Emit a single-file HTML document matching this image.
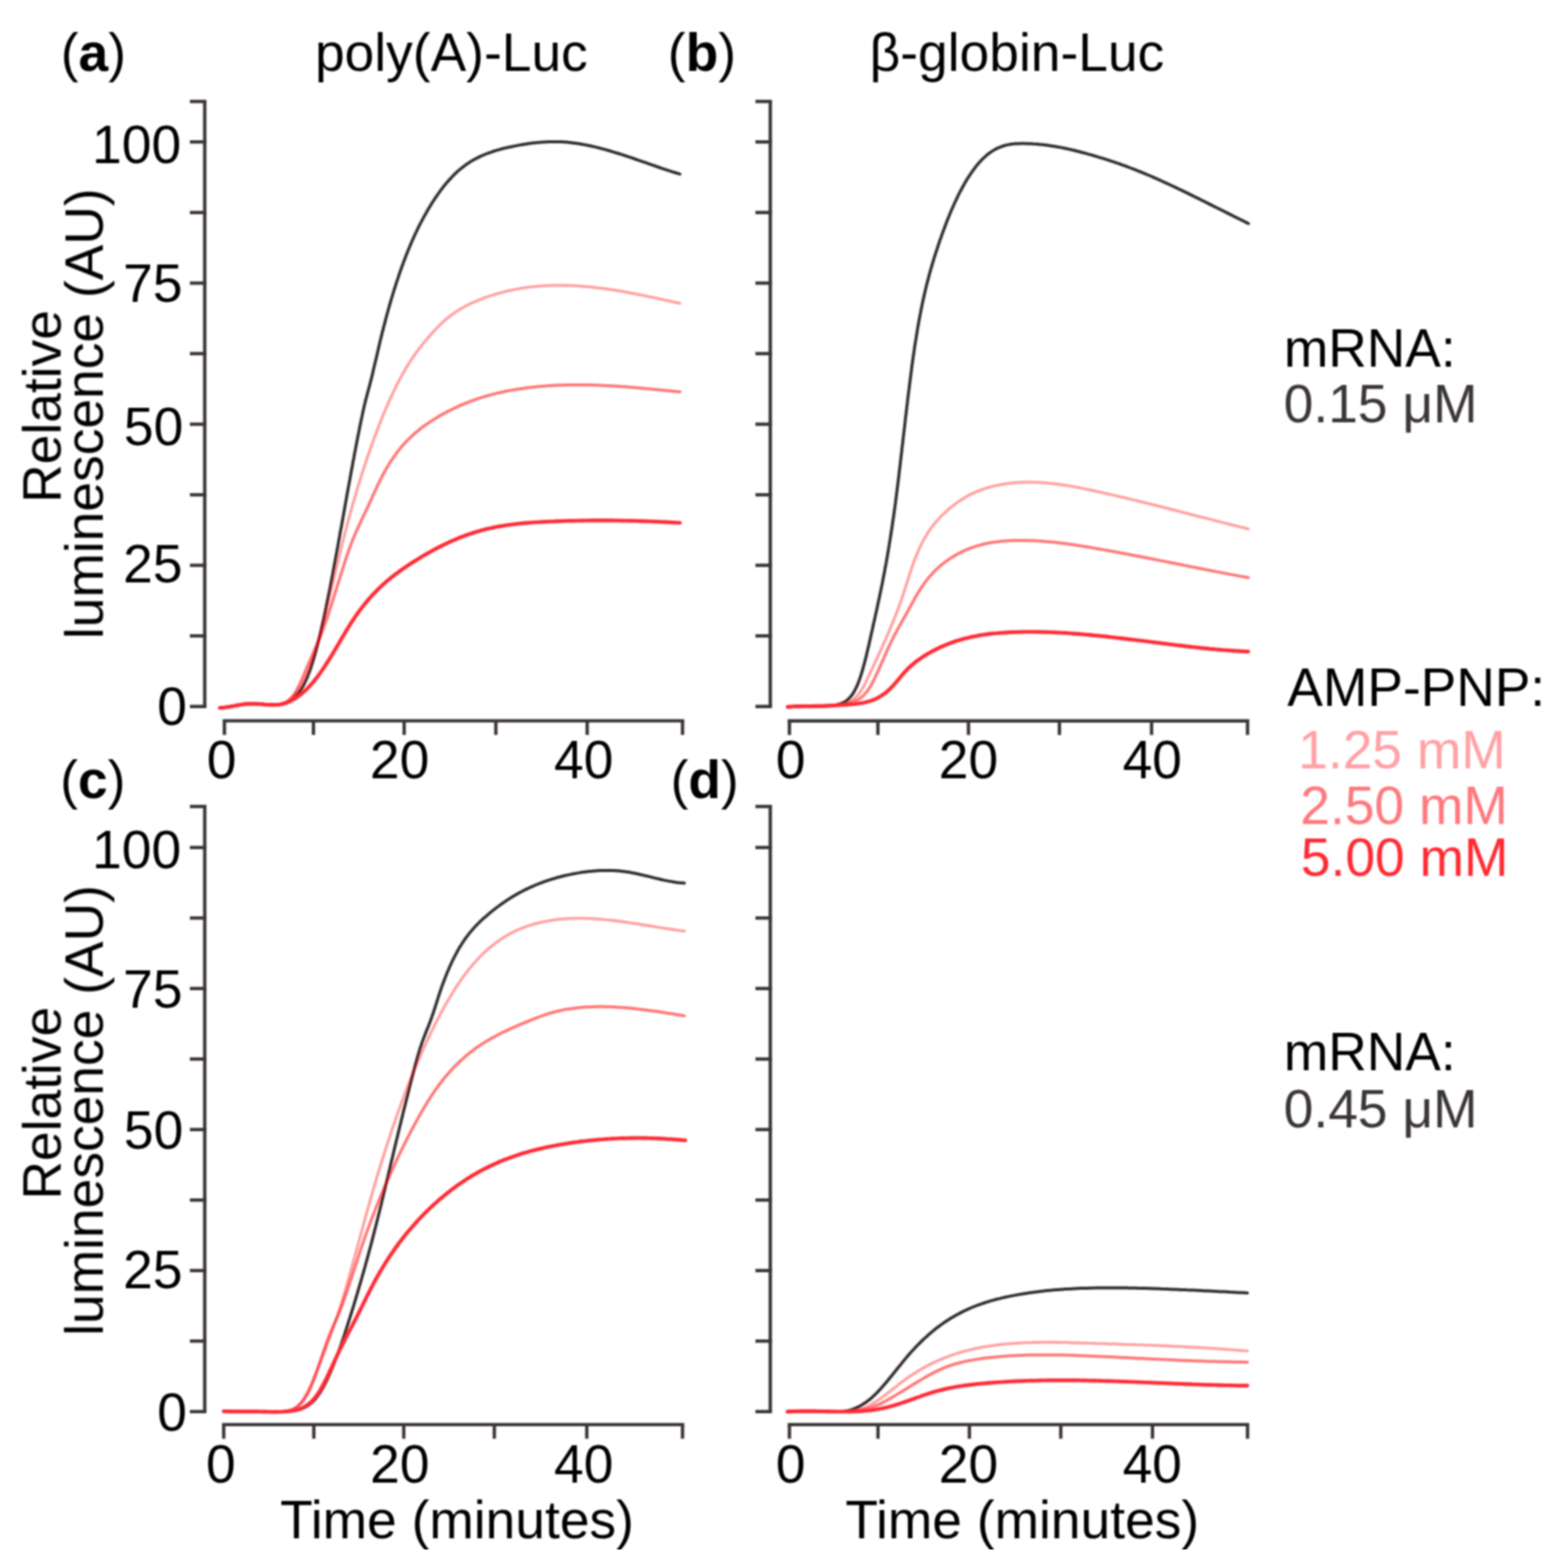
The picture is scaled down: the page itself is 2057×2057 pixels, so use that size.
<!DOCTYPE html>
<html><head><meta charset="utf-8"><title>Luminescence</title>
<style>
html,body{margin:0;padding:0;background:#fff;}
body{width:2057px;height:2057px;overflow:hidden;}
svg{display:block;}
text{font-family:"Liberation Sans",Arial,sans-serif;font-size:70px;}
</style></head><body>
<svg xmlns="http://www.w3.org/2000/svg" width="2057" height="2057" viewBox="0 0 2057 2057">
<defs><filter id="soft" x="0" y="0" width="100%" height="100%"><feGaussianBlur stdDeviation="0.8"/></filter></defs>
<rect width="2057" height="2057" fill="#fff"/>
<g filter="url(#soft)">
<g stroke="#3a3536" stroke-width="4.4" fill="none" stroke-linecap="butt">
<path d="M268.6 133.1 V926.8" />
<path d="M249.1 133.1 H270.8" />
<path d="M249.1 926.8 H270.8" />
<path d="M249.1 834.2 H270.8" />
<path d="M249.1 741.6 H270.8" />
<path d="M249.1 649.1 H270.8" />
<path d="M249.1 556.5 H270.8" />
<path d="M249.1 463.9 H270.8" />
<path d="M249.1 371.4 H270.8" />
<path d="M249.1 278.8 H270.8" />
<path d="M249.1 186.2 H270.8" />
<path d="M292.2 945.6 H897.6" />
<path d="M294.4 945.6 V964.1" />
<path d="M411.2 945.6 V964.1" />
<path d="M530.2 945.6 V964.1" />
<path d="M650.5 945.6 V964.1" />
<path d="M770.3 945.6 V964.1" />
<path d="M895.4 945.6 V964.1" />
<path d="M1010.5 133.1 V926.8" />
<path d="M991.0 133.1 H1012.7" />
<path d="M991.0 926.8 H1012.7" />
<path d="M991.0 834.2 H1012.7" />
<path d="M991.0 741.6 H1012.7" />
<path d="M991.0 649.1 H1012.7" />
<path d="M991.0 556.5 H1012.7" />
<path d="M991.0 463.9 H1012.7" />
<path d="M991.0 371.4 H1012.7" />
<path d="M991.0 278.8 H1012.7" />
<path d="M991.0 186.2 H1012.7" />
<path d="M1033.4 945.7 H1638.8" />
<path d="M1035.6 945.7 V964.2" />
<path d="M1151.7 945.7 V964.2" />
<path d="M1270.5 945.7 V964.2" />
<path d="M1389.8 945.7 V964.2" />
<path d="M1510.7 945.7 V964.2" />
<path d="M1636.6 945.7 V964.2" />
<path d="M268.6 1058.0 V1851.8" />
<path d="M249.1 1058.0 H270.8" />
<path d="M249.1 1851.8 H270.8" />
<path d="M249.1 1759.3 H270.8" />
<path d="M249.1 1666.8 H270.8" />
<path d="M249.1 1574.3 H270.8" />
<path d="M249.1 1481.8 H270.8" />
<path d="M249.1 1389.3 H270.8" />
<path d="M249.1 1296.8 H270.8" />
<path d="M249.1 1204.3 H270.8" />
<path d="M249.1 1111.8 H270.8" />
<path d="M291.3 1868.9 H897.6" />
<path d="M293.5 1868.9 V1887.4" />
<path d="M411.7 1868.9 V1887.4" />
<path d="M529.7 1868.9 V1887.4" />
<path d="M648.5 1868.9 V1887.4" />
<path d="M769.8 1868.9 V1887.4" />
<path d="M895.4 1868.9 V1887.4" />
<path d="M1010.5 1058.0 V1851.8" />
<path d="M991.0 1058.0 H1012.7" />
<path d="M991.0 1851.8 H1012.7" />
<path d="M991.0 1759.3 H1012.7" />
<path d="M991.0 1666.8 H1012.7" />
<path d="M991.0 1574.3 H1012.7" />
<path d="M991.0 1481.8 H1012.7" />
<path d="M991.0 1389.3 H1012.7" />
<path d="M991.0 1296.8 H1012.7" />
<path d="M991.0 1204.3 H1012.7" />
<path d="M991.0 1111.8 H1012.7" />
<path d="M1033.4 1868.9 H1638.8" />
<path d="M1035.6 1868.9 V1887.4" />
<path d="M1151.8 1868.9 V1887.4" />
<path d="M1271.7 1868.9 V1887.4" />
<path d="M1391.6 1868.9 V1887.4" />
<path d="M1511.9 1868.9 V1887.4" />
<path d="M1636.6 1868.9 V1887.4" />
</g>
<path d="M288.3 928.7 292.3 928.3 296.3 927.7 300.2 927.1 304.2 926.5 308.1 925.8 312.1 925.2 316.0 924.6 320.0 924.1 323.9 923.7 327.9 923.4 331.9 923.3 335.9 923.4 339.9 923.5 343.9 923.7 347.9 924.0 351.9 924.2 355.9 924.3 359.9 924.4 363.9 924.3 367.9 924.0 371.9 923.4 375.8 922.3 379.5 920.6 383.0 918.3 386.3 915.6 389.2 912.6 391.8 909.3 394.2 905.9 396.4 902.3 398.4 898.7 400.2 895.0 401.9 891.2 403.5 887.4 405.0 883.6 406.5 879.7 407.8 875.8 409.1 872.0 410.3 868.1 411.5 864.2 412.7 860.2 413.8 856.3 414.8 852.4 415.9 848.5 416.9 844.6 417.9 840.7 418.8 836.7 419.8 832.8 420.7 828.9 421.6 824.9 422.5 821.0 423.4 817.1 424.3 813.2 425.1 809.2 426.0 805.3 426.8 801.3 427.6 797.4 428.4 793.5 429.2 789.5 430.0 785.6 430.8 781.7 431.6 777.7 432.4 773.8 433.2 769.8 433.9 765.9 434.7 762.0 435.4 758.0 436.2 754.1 436.9 750.1 437.7 746.2 438.4 742.2 439.1 738.3 439.9 734.4 440.6 730.4 441.3 726.5 442.1 722.5 442.8 718.6 443.5 714.7 444.2 710.7 444.9 706.8 445.6 702.8 446.3 698.9 447.0 695.0 447.8 691.0 448.5 687.1 449.2 683.1 449.9 679.2 450.6 675.3 451.3 671.3 452.0 667.4 452.7 663.4 453.4 659.5 454.1 655.6 454.8 651.6 455.5 647.7 456.2 643.8 456.9 639.8 457.7 635.9 458.4 632.0 459.1 628.1 459.8 624.1 460.5 620.2 461.2 616.3 462.0 612.3 462.7 608.4 463.4 604.5 464.2 600.6 464.9 596.6 465.6 592.7 466.4 588.8 467.1 584.9 467.9 581.0 468.6 577.1 469.4 573.2 470.2 569.2 471.0 565.3 471.7 561.4 472.5 557.5 473.3 553.6 474.1 549.8 475.0 545.9 475.8 542.0 476.6 538.1 477.5 534.3 478.4 530.4 479.3 526.6 480.3 522.8 481.3 519.0 482.3 515.2 483.3 511.3 484.4 507.5 485.4 503.5 486.4 499.6 487.4 495.7 488.4 491.8 489.3 487.8 490.2 483.9 491.1 480.0 492.0 476.1 493.0 472.2 493.9 468.3 494.8 464.4 495.7 460.5 496.6 456.6 497.5 452.8 498.4 448.9 499.3 445.0 500.3 441.2 501.2 437.3 502.2 433.5 503.2 429.6 504.2 425.8 505.2 421.9 506.2 418.1 507.2 414.2 508.3 410.4 509.3 406.6 510.4 402.7 511.5 398.9 512.6 395.1 513.7 391.3 514.9 387.5 516.0 383.7 517.2 379.9 518.4 376.1 519.6 372.3 520.8 368.6 522.1 364.8 523.3 361.0 524.6 357.3 525.9 353.5 527.3 349.8 528.6 346.1 530.0 342.4 531.4 338.7 532.8 335.0 534.3 331.3 535.8 327.6 537.3 323.9 538.8 320.3 540.4 316.7 542.0 313.0 543.6 309.4 545.3 305.8 547.0 302.3 548.7 298.7 550.5 295.2 552.3 291.6 554.2 288.1 556.0 284.6 558.0 281.2 559.9 277.7 561.9 274.3 563.9 270.9 566.0 267.5 568.1 264.2 570.3 260.9 572.5 257.6 574.8 254.3 577.1 251.1 579.4 248.0 581.9 244.8 584.3 241.8 586.9 238.7 589.5 235.8 592.2 232.9 594.9 230.0 597.7 227.3 600.6 224.6 603.6 222.0 606.7 219.6 609.8 217.2 613.1 214.9 616.4 212.7 619.7 210.6 623.2 208.7 626.7 206.9 630.3 205.1 633.9 203.5 637.6 202.0 641.3 200.6 645.1 199.3 648.8 198.0 652.7 196.9 656.5 195.8 660.4 194.8 664.3 193.9 668.1 193.0 672.1 192.2 676.0 191.4 679.9 190.6 683.8 189.9 687.8 189.3 691.7 188.7 695.7 188.1 699.6 187.6 703.6 187.2 707.6 186.8 711.6 186.5 715.6 186.3 719.6 186.1 723.6 186.0 727.6 186.0 731.6 186.0 735.6 186.1 739.6 186.3 743.6 186.6 747.5 187.0 751.5 187.5 755.5 188.0 759.5 188.6 763.4 189.2 767.3 189.9 771.3 190.7 775.2 191.5 779.1 192.4 783.0 193.4 786.9 194.3 790.8 195.4 794.6 196.4 798.5 197.5 802.3 198.6 806.1 199.8 810.0 201.0 813.8 202.2 817.6 203.4 821.4 204.7 825.2 205.9 829.0 207.2 832.8 208.5 836.6 209.8 840.3 211.1 844.1 212.4 847.9 213.7 851.7 215.1 855.5 216.4 859.2 217.7 863.0 219.0 866.8 220.3 870.6 221.6 874.4 222.8 878.2 224.1 882.0 225.3 885.8 226.5 889.6 227.7 891.9 228.4" stroke="#312d2e" stroke-opacity="1.00" stroke-width="4.0" fill="none" stroke-linecap="round" stroke-linejoin="round"/>
<path d="M288.3 928.6 292.3 928.5 296.3 928.1 300.3 927.5 304.2 926.7 308.1 925.8 312.0 924.9 315.9 924.1 319.8 923.6 323.8 923.3 327.8 923.2 331.8 923.3 335.8 923.6 339.8 923.9 343.8 924.2 347.8 924.6 351.8 924.8 355.7 924.9 359.7 924.8 363.7 924.4 367.7 923.6 371.6 922.4 375.3 920.7 378.8 918.5 382.1 916.0 385.2 913.1 387.9 910.0 390.5 906.7 392.9 903.3 395.1 899.8 397.1 896.2 399.0 892.5 400.8 888.8 402.5 885.1 404.1 881.3 405.6 877.5 407.1 873.7 408.5 869.9 409.8 866.0 411.1 862.1 412.3 858.3 413.6 854.4 414.7 850.5 415.9 846.6 417.0 842.8 418.1 838.9 419.2 835.0 420.2 831.1 421.3 827.2 422.3 823.3 423.3 819.4 424.3 815.5 425.3 811.6 426.2 807.7 427.2 803.8 428.2 799.9 429.1 796.0 430.1 792.1 431.0 788.2 431.9 784.3 432.9 780.4 433.8 776.5 434.7 772.6 435.7 768.7 436.6 764.8 437.5 760.9 438.4 757.1 439.4 753.2 440.3 749.3 441.2 745.4 442.1 741.5 443.1 737.6 444.0 733.7 444.9 729.9 445.9 726.0 446.8 722.1 447.8 718.2 448.7 714.4 449.7 710.5 450.7 706.6 451.7 702.8 452.7 698.9 453.7 695.1 454.7 691.2 455.7 687.4 456.7 683.5 457.8 679.7 458.8 675.9 459.9 672.0 461.0 668.2 462.0 664.4 463.1 660.5 464.2 656.7 465.3 652.9 466.5 649.1 467.6 645.2 468.7 641.4 469.9 637.6 471.1 633.8 472.2 630.0 473.4 626.2 474.6 622.4 475.8 618.6 477.1 614.8 478.3 611.1 479.6 607.3 480.8 603.5 482.1 599.7 483.4 596.0 484.7 592.2 486.0 588.5 487.3 584.7 488.7 581.0 490.0 577.2 491.4 573.5 492.8 569.7 494.2 566.0 495.6 562.3 497.0 558.6 498.5 554.9 500.0 551.2 501.4 547.5 502.9 543.8 504.5 540.2 506.0 536.5 507.6 532.9 509.2 529.2 510.8 525.6 512.4 522.0 514.1 518.4 515.8 514.8 517.5 511.2 519.2 507.7 521.0 504.1 522.8 500.6 524.7 497.1 526.6 493.6 528.5 490.1 530.4 486.7 532.4 483.3 534.5 479.9 536.6 476.5 538.7 473.2 540.9 469.9 543.1 466.7 545.4 463.4 547.8 460.2 550.1 457.0 552.6 453.9 555.0 450.8 557.5 447.7 560.1 444.7 562.7 441.7 565.3 438.7 568.0 435.7 570.7 432.8 573.4 430.0 576.2 427.2 579.0 424.4 582.0 421.7 584.9 419.1 588.0 416.6 591.1 414.2 594.3 411.8 597.5 409.5 600.8 407.4 604.2 405.3 607.6 403.3 611.1 401.4 614.7 399.6 618.2 397.9 621.9 396.2 625.5 394.7 629.2 393.2 632.9 391.7 636.7 390.3 640.4 389.0 644.2 387.8 648.0 386.6 651.9 385.4 655.7 384.3 659.6 383.3 663.4 382.3 667.3 381.4 671.2 380.6 675.1 379.8 679.1 379.0 683.0 378.3 686.9 377.7 690.9 377.1 694.9 376.6 698.8 376.2 702.8 375.8 706.8 375.4 710.8 375.1 714.8 374.8 718.8 374.6 722.7 374.5 726.7 374.4 730.7 374.3 734.7 374.3 738.7 374.4 742.7 374.5 746.7 374.6 750.7 374.7 754.7 374.9 758.7 375.2 762.7 375.5 766.7 375.8 770.7 376.1 774.7 376.5 778.7 377.0 782.6 377.4 786.6 377.9 790.6 378.4 794.5 378.9 798.5 379.5 802.5 380.1 806.4 380.7 810.4 381.4 814.3 382.0 818.3 382.7 822.2 383.4 826.1 384.1 830.1 384.9 834.0 385.6 837.9 386.4 841.8 387.2 845.8 387.9 849.7 388.8 853.6 389.6 857.5 390.4 861.4 391.2 865.3 392.1 869.2 392.9 873.2 393.8 877.1 394.6 881.0 395.5 884.9 396.4 888.8 397.2 891.9 397.9" stroke="#ff000c" stroke-opacity="0.37" stroke-width="3.8" fill="none" stroke-linecap="round" stroke-linejoin="round"/>
<path d="M288.3 928.8 292.3 928.3 296.2 927.7 300.2 927.1 304.1 926.4 308.1 925.8 312.0 925.2 316.0 924.7 320.0 924.2 323.9 923.8 327.9 923.5 331.9 923.3 335.9 923.2 339.9 923.3 343.9 923.6 347.9 924.0 351.9 924.4 355.8 924.8 359.8 924.9 363.8 924.7 367.8 924.1 371.7 923.0 375.5 921.2 378.9 918.8 382.0 915.8 384.7 912.5 387.1 909.0 389.2 905.4 391.1 901.7 392.9 898.0 394.6 894.3 396.3 890.6 397.9 886.9 399.4 883.2 401.0 879.5 402.5 875.8 404.1 872.1 405.7 868.5 407.3 864.9 408.9 861.2 410.5 857.5 412.1 853.9 413.7 850.2 415.3 846.5 416.9 842.8 418.5 839.1 420.0 835.3 421.5 831.6 422.9 827.8 424.4 824.0 425.7 820.2 427.1 816.4 428.4 812.6 429.7 808.7 431.0 804.9 432.2 801.1 433.5 797.3 434.7 793.4 435.9 789.6 437.1 785.8 438.3 782.0 439.5 778.1 440.7 774.3 441.9 770.5 443.1 766.7 444.3 762.9 445.5 759.0 446.7 755.2 447.9 751.4 449.1 747.6 450.3 743.8 451.5 740.0 452.7 736.3 454.0 732.5 455.2 728.7 456.5 725.0 457.8 721.2 459.2 717.5 460.6 713.8 462.0 710.2 463.4 706.5 464.9 702.9 466.5 699.2 468.1 695.6 469.7 692.0 471.4 688.4 473.1 684.8 474.8 681.2 476.5 677.6 478.2 674.0 479.9 670.4 481.7 666.7 483.4 663.1 485.0 659.4 486.7 655.8 488.4 652.1 490.0 648.5 491.7 644.9 493.3 641.3 495.0 637.7 496.7 634.1 498.5 630.5 500.2 627.0 502.0 623.5 503.9 620.0 505.8 616.6 507.8 613.1 509.8 609.8 511.9 606.4 514.1 603.1 516.3 599.9 518.6 596.6 520.9 593.5 523.3 590.4 525.8 587.3 528.4 584.3 531.0 581.4 533.7 578.5 536.5 575.7 539.3 572.9 542.3 570.2 545.2 567.6 548.3 565.1 551.3 562.6 554.5 560.2 557.7 557.9 561.0 555.6 564.3 553.4 567.6 551.2 571.0 549.1 574.4 547.0 577.8 545.0 581.3 543.1 584.8 541.2 588.3 539.3 591.9 537.5 595.5 535.8 599.1 534.1 602.7 532.4 606.3 530.8 610.0 529.3 613.7 527.8 617.5 526.4 621.2 525.0 625.0 523.7 628.8 522.4 632.6 521.2 636.4 520.1 640.2 519.0 644.1 517.9 647.9 516.9 651.8 515.9 655.7 515.0 659.6 514.2 663.5 513.3 667.4 512.6 671.3 511.9 675.3 511.2 679.2 510.5 683.2 509.9 687.1 509.4 691.1 508.8 695.1 508.3 699.0 507.9 703.0 507.5 707.0 507.1 711.0 506.7 715.0 506.4 719.0 506.1 722.9 505.9 726.9 505.6 730.9 505.5 734.9 505.3 738.9 505.2 742.9 505.0 746.9 505.0 750.9 504.9 754.9 504.9 758.9 504.9 762.9 504.9 766.9 504.9 770.9 505.0 774.9 505.1 778.9 505.2 782.9 505.3 786.9 505.5 790.9 505.7 794.9 505.9 798.9 506.1 802.9 506.3 806.9 506.5 810.9 506.8 814.9 507.1 818.9 507.3 822.9 507.6 826.8 507.9 830.8 508.3 834.8 508.6 838.8 508.9 842.8 509.3 846.8 509.7 850.8 510.0 854.7 510.4 858.7 510.8 862.7 511.2 866.7 511.6 870.7 512.0 874.6 512.4 878.6 512.8 882.6 513.2 886.6 513.6 890.6 514.0 892.0 514.1" stroke="#ff000c" stroke-opacity="0.53" stroke-width="4.0" fill="none" stroke-linecap="round" stroke-linejoin="round"/>
<path d="M288.3 928.6 292.3 928.4 296.3 927.9 300.2 927.3 304.2 926.6 308.1 925.9 312.0 925.1 316.0 924.4 319.9 923.8 323.9 923.3 327.9 923.1 331.9 923.1 335.9 923.3 339.9 923.6 343.8 923.9 347.8 924.3 351.8 924.6 355.8 924.8 359.8 924.9 363.8 924.6 367.8 924.1 371.7 923.2 375.6 922.0 379.3 920.5 383.0 918.7 386.5 916.7 389.9 914.5 393.2 912.1 396.4 909.5 399.5 906.8 402.4 904.0 405.2 901.1 408.0 898.1 410.7 895.0 413.2 891.9 415.7 888.7 418.2 885.4 420.5 882.1 422.8 878.8 425.1 875.5 427.3 872.1 429.5 868.7 431.7 865.3 433.8 861.9 435.9 858.5 438.0 855.0 440.0 851.6 442.1 848.1 444.1 844.7 446.1 841.2 448.1 837.8 450.2 834.3 452.2 830.9 454.2 827.5 456.3 824.1 458.4 820.7 460.5 817.4 462.7 814.0 464.9 810.8 467.1 807.5 469.4 804.3 471.7 801.1 474.1 797.9 476.6 794.8 479.0 791.7 481.6 788.6 484.1 785.6 486.8 782.7 489.4 779.7 492.2 776.9 495.0 774.0 497.8 771.3 500.7 768.5 503.6 765.9 506.6 763.2 509.6 760.7 512.7 758.1 515.8 755.7 518.9 753.2 522.1 750.9 525.3 748.5 528.6 746.2 531.9 744.0 535.2 741.8 538.5 739.6 541.9 737.4 545.3 735.3 548.6 733.2 552.0 731.1 555.5 729.0 558.9 727.0 562.4 725.1 565.9 723.1 569.4 721.2 572.9 719.3 576.4 717.5 580.0 715.7 583.6 713.9 587.2 712.2 590.8 710.6 594.4 708.9 598.1 707.4 601.8 705.8 605.5 704.4 609.2 703.0 613.0 701.6 616.7 700.3 620.5 699.1 624.3 697.9 628.2 696.8 632.0 695.7 635.9 694.7 639.8 693.7 643.7 692.9 647.6 692.0 651.5 691.2 655.4 690.5 659.4 689.8 663.3 689.2 667.3 688.6 671.2 688.1 675.2 687.6 679.2 687.1 683.1 686.7 687.1 686.3 691.1 686.0 695.1 685.7 699.1 685.4 703.1 685.1 707.0 684.9 711.0 684.7 715.0 684.5 719.0 684.3 723.0 684.1 727.0 684.0 731.0 683.8 735.0 683.7 739.0 683.5 743.0 683.4 747.0 683.3 751.0 683.2 755.0 683.1 759.0 683.1 763.0 683.0 767.0 682.9 771.0 682.9 775.0 682.8 779.0 682.8 783.0 682.8 787.0 682.8 791.0 682.8 795.0 682.8 799.0 682.8 803.0 682.8 807.0 682.9 811.0 682.9 815.0 683.0 819.0 683.1 823.0 683.1 827.0 683.2 831.0 683.3 835.0 683.4 839.0 683.5 843.0 683.7 847.0 683.8 851.0 683.9 855.0 684.1 859.0 684.2 863.0 684.4 867.0 684.6 871.0 684.8 875.0 685.0 879.0 685.2 883.0 685.4 887.0 685.6 891.0 685.9 892.0 685.9" stroke="#ff2b35" stroke-opacity="1.00" stroke-width="4.9" fill="none" stroke-linecap="round" stroke-linejoin="round"/>
<path d="M1033.3 927.8 1037.2 927.2 1041.2 926.8 1045.2 926.5 1049.2 926.3 1053.2 926.3 1057.2 926.3 1061.2 926.4 1065.2 926.4 1069.2 926.5 1073.2 926.6 1077.2 926.5 1081.2 926.4 1085.2 926.2 1089.2 925.8 1093.1 925.3 1097.1 924.6 1101.0 923.6 1104.9 922.4 1108.6 920.5 1112.0 918.0 1115.0 915.0 1117.7 911.7 1120.0 908.1 1122.0 904.4 1123.9 900.6 1125.5 896.8 1127.0 892.9 1128.4 889.0 1129.7 885.0 1130.9 881.1 1132.0 877.1 1133.1 873.2 1134.2 869.3 1135.2 865.3 1136.2 861.4 1137.1 857.5 1138.0 853.6 1139.0 849.6 1139.9 845.7 1140.8 841.8 1141.6 837.9 1142.5 834.0 1143.4 830.0 1144.3 826.1 1145.1 822.2 1146.0 818.3 1146.9 814.4 1147.8 810.5 1148.6 806.6 1149.5 802.7 1150.3 798.8 1151.2 794.8 1152.0 790.9 1152.9 787.0 1153.7 783.1 1154.5 779.1 1155.4 775.2 1156.2 771.2 1157.0 767.3 1157.8 763.4 1158.5 759.4 1159.3 755.4 1160.1 751.5 1160.8 747.5 1161.5 743.6 1162.3 739.6 1163.0 735.6 1163.7 731.7 1164.4 727.7 1165.1 723.7 1165.7 719.8 1166.4 715.8 1167.0 711.8 1167.7 707.8 1168.3 703.8 1168.9 699.9 1169.5 695.9 1170.2 691.9 1170.7 687.9 1171.3 683.9 1171.9 679.9 1172.5 675.9 1173.0 671.9 1173.6 667.9 1174.1 664.0 1174.7 660.0 1175.2 656.0 1175.7 652.0 1176.2 648.0 1176.7 644.0 1177.2 640.0 1177.7 636.0 1178.2 632.0 1178.7 628.0 1179.2 624.0 1179.6 620.0 1180.1 616.1 1180.6 612.1 1181.0 608.1 1181.5 604.1 1182.0 600.1 1182.4 596.2 1182.9 592.2 1183.3 588.2 1183.8 584.2 1184.3 580.3 1184.7 576.3 1185.2 572.3 1185.6 568.3 1186.1 564.4 1186.6 560.4 1187.0 556.4 1187.5 552.5 1187.9 548.5 1188.4 544.5 1188.9 540.6 1189.3 536.6 1189.8 532.6 1190.3 528.7 1190.7 524.7 1191.2 520.7 1191.7 516.8 1192.2 512.8 1192.7 508.9 1193.2 504.9 1193.7 501.0 1194.2 497.0 1194.7 493.1 1195.2 489.1 1195.7 485.2 1196.2 481.3 1196.7 477.3 1197.3 473.4 1197.8 469.5 1198.4 465.6 1199.0 461.6 1199.5 457.7 1200.1 453.8 1200.7 449.9 1201.4 446.0 1202.0 442.1 1202.6 438.1 1203.3 434.2 1203.9 430.3 1204.6 426.4 1205.3 422.5 1206.0 418.7 1206.7 414.8 1207.5 410.9 1208.2 407.0 1209.0 403.1 1209.8 399.3 1210.6 395.4 1211.5 391.5 1212.3 387.7 1213.2 383.8 1214.1 380.0 1215.0 376.1 1216.0 372.3 1217.0 368.5 1218.0 364.7 1219.0 360.8 1220.0 357.0 1221.1 353.2 1222.2 349.4 1223.3 345.6 1224.5 341.8 1225.6 338.0 1226.8 334.3 1228.0 330.5 1229.3 326.7 1230.5 322.9 1231.8 319.2 1233.0 315.4 1234.4 311.7 1235.7 307.9 1237.0 304.2 1238.4 300.5 1239.8 296.7 1241.2 293.0 1242.6 289.3 1244.1 285.7 1245.6 282.0 1247.1 278.3 1248.6 274.7 1250.2 271.1 1251.8 267.5 1253.5 263.9 1255.2 260.3 1256.9 256.7 1258.7 253.2 1260.5 249.7 1262.4 246.2 1264.3 242.8 1266.2 239.3 1268.2 235.9 1270.3 232.6 1272.5 229.3 1274.7 226.0 1277.0 222.8 1279.3 219.7 1281.8 216.6 1284.3 213.6 1287.0 210.7 1289.7 207.9 1292.6 205.2 1295.5 202.7 1298.6 200.3 1301.9 198.1 1305.2 196.1 1308.7 194.3 1312.4 192.8 1316.1 191.5 1319.9 190.4 1323.8 189.6 1327.7 189.0 1331.7 188.6 1335.7 188.4 1339.7 188.3 1343.7 188.3 1347.7 188.4 1351.7 188.5 1355.7 188.8 1359.7 189.0 1363.7 189.4 1367.6 189.8 1371.6 190.3 1375.6 190.8 1379.6 191.4 1383.5 192.0 1387.5 192.7 1391.4 193.4 1395.3 194.2 1399.2 195.0 1403.1 195.9 1407.0 196.8 1410.9 197.7 1414.8 198.7 1418.7 199.7 1422.6 200.7 1426.4 201.8 1430.3 202.9 1434.1 204.0 1438.0 205.1 1441.8 206.3 1445.6 207.4 1449.5 208.6 1453.3 209.8 1457.1 211.1 1460.9 212.3 1464.7 213.6 1468.5 214.9 1472.2 216.3 1476.0 217.7 1479.7 219.0 1483.5 220.5 1487.2 221.9 1491.0 223.4 1494.7 224.9 1498.4 226.4 1502.1 227.9 1505.8 229.5 1509.5 231.0 1513.1 232.6 1516.8 234.2 1520.5 235.9 1524.1 237.5 1527.7 239.2 1531.4 240.8 1535.0 242.5 1538.6 244.2 1542.3 245.9 1545.9 247.7 1549.5 249.4 1553.1 251.1 1556.7 252.9 1560.3 254.6 1563.9 256.4 1567.5 258.2 1571.1 259.9 1574.6 261.7 1578.2 263.5 1581.8 265.3 1585.4 267.1 1589.0 268.9 1592.5 270.7 1596.1 272.5 1599.7 274.2 1603.3 276.0 1606.8 277.8 1610.4 279.6 1614.0 281.4 1617.6 283.2 1621.1 285.0 1624.7 286.8 1628.3 288.5 1631.9 290.3 1635.5 292.1 1637.8 293.2" stroke="#312d2e" stroke-opacity="1.00" stroke-width="4.0" fill="none" stroke-linecap="round" stroke-linejoin="round"/>
<path d="M1033.3 926.8 1037.3 927.1 1041.3 927.1 1045.3 927.1 1049.3 926.9 1053.3 926.7 1057.3 926.5 1061.3 926.2 1065.3 926.0 1069.3 925.8 1073.2 925.8 1077.2 925.8 1081.2 925.9 1085.2 926.1 1089.2 926.2 1093.2 926.1 1097.2 925.9 1101.2 925.4 1105.2 924.6 1109.1 923.4 1112.8 921.8 1116.4 919.8 1119.8 917.3 1122.9 914.5 1125.7 911.4 1128.2 908.1 1130.5 904.6 1132.6 901.0 1134.6 897.3 1136.4 893.7 1138.1 890.0 1139.9 886.4 1141.5 882.7 1143.2 879.1 1144.9 875.5 1146.6 871.8 1148.3 868.2 1150.0 864.6 1151.7 860.9 1153.3 857.3 1155.0 853.7 1156.7 850.0 1158.3 846.3 1159.9 842.7 1161.6 839.0 1163.2 835.3 1164.8 831.7 1166.4 828.0 1167.9 824.3 1169.5 820.6 1171.0 816.8 1172.6 813.1 1174.1 809.4 1175.5 805.6 1177.0 801.8 1178.4 798.1 1179.8 794.3 1181.2 790.5 1182.5 786.7 1183.8 782.8 1185.1 779.0 1186.4 775.2 1187.6 771.3 1188.8 767.5 1190.0 763.7 1191.2 759.8 1192.4 756.0 1193.6 752.3 1194.9 748.5 1196.1 744.8 1197.4 741.0 1198.7 737.3 1200.1 733.7 1201.6 730.0 1203.1 726.4 1204.6 722.8 1206.2 719.2 1207.9 715.7 1209.6 712.2 1211.5 708.7 1213.4 705.3 1215.4 701.9 1217.5 698.6 1219.6 695.4 1221.9 692.2 1224.3 689.1 1226.8 686.0 1229.3 683.1 1232.0 680.1 1234.7 677.3 1237.5 674.5 1240.4 671.8 1243.3 669.1 1246.3 666.5 1249.4 664.0 1252.5 661.6 1255.7 659.3 1259.0 657.0 1262.3 654.9 1265.7 652.8 1269.1 650.8 1272.6 649.0 1276.2 647.2 1279.8 645.6 1283.5 644.1 1287.2 642.7 1291.0 641.3 1294.8 640.1 1298.6 639.0 1302.4 638.0 1306.3 637.1 1310.2 636.3 1314.2 635.5 1318.1 634.9 1322.0 634.3 1326.0 633.8 1330.0 633.4 1334.0 633.1 1338.0 632.9 1342.0 632.7 1346.0 632.6 1350.0 632.6 1354.0 632.6 1358.0 632.7 1361.9 632.9 1365.9 633.1 1369.9 633.4 1373.9 633.7 1377.9 634.1 1381.9 634.5 1385.9 635.0 1389.8 635.5 1393.8 636.1 1397.7 636.7 1401.7 637.3 1405.6 638.0 1409.6 638.7 1413.5 639.4 1417.5 640.2 1421.4 641.0 1425.3 641.8 1429.2 642.6 1433.1 643.4 1437.0 644.3 1441.0 645.1 1444.9 646.0 1448.8 646.9 1452.7 647.7 1456.6 648.6 1460.5 649.5 1464.4 650.4 1468.3 651.3 1472.2 652.3 1476.0 653.2 1479.9 654.1 1483.8 655.0 1487.7 656.0 1491.6 656.9 1495.5 657.9 1499.4 658.8 1503.3 659.8 1507.1 660.8 1511.0 661.7 1514.9 662.7 1518.8 663.7 1522.7 664.7 1526.5 665.7 1530.4 666.6 1534.3 667.6 1538.2 668.6 1542.0 669.6 1545.9 670.6 1549.8 671.6 1553.7 672.6 1557.5 673.6 1561.4 674.6 1565.3 675.6 1569.2 676.6 1573.0 677.6 1576.9 678.6 1580.8 679.5 1584.7 680.5 1588.5 681.5 1592.4 682.5 1596.3 683.5 1600.2 684.5 1604.0 685.5 1607.9 686.5 1611.8 687.4 1615.7 688.4 1619.6 689.4 1623.4 690.3 1627.3 691.3 1631.2 692.2 1635.1 693.2 1637.5 693.8" stroke="#ff000c" stroke-opacity="0.37" stroke-width="3.8" fill="none" stroke-linecap="round" stroke-linejoin="round"/>
<path d="M1033.3 927.6 1037.3 927.1 1041.2 926.8 1045.2 926.5 1049.2 926.4 1053.2 926.3 1057.2 926.3 1061.2 926.3 1065.2 926.3 1069.2 926.3 1073.2 926.3 1077.2 926.3 1081.2 926.3 1085.2 926.2 1089.2 926.0 1093.2 925.8 1097.2 925.4 1101.2 925.0 1105.2 924.4 1109.1 923.7 1113.0 922.8 1116.9 921.8 1120.7 920.4 1124.4 918.6 1127.9 916.4 1131.2 913.8 1134.2 910.8 1136.9 907.6 1139.4 904.3 1141.6 900.8 1143.7 897.2 1145.6 893.5 1147.5 889.9 1149.2 886.2 1150.9 882.6 1152.6 878.9 1154.2 875.2 1155.9 871.5 1157.5 867.9 1159.1 864.2 1160.7 860.5 1162.3 856.9 1163.9 853.2 1165.5 849.6 1167.2 846.0 1168.9 842.5 1170.6 838.9 1172.4 835.4 1174.2 831.9 1176.1 828.4 1178.0 824.9 1179.9 821.4 1181.9 817.9 1183.8 814.5 1185.8 811.0 1187.8 807.5 1189.7 804.0 1191.7 800.4 1193.6 796.9 1195.5 793.4 1197.4 789.9 1199.3 786.4 1201.2 783.0 1203.2 779.5 1205.3 776.2 1207.4 772.9 1209.6 769.6 1211.8 766.4 1214.1 763.2 1216.5 760.1 1219.0 757.0 1221.6 754.1 1224.3 751.2 1227.0 748.3 1229.9 745.6 1232.8 743.0 1235.8 740.4 1238.9 738.0 1242.1 735.7 1245.3 733.4 1248.7 731.2 1252.1 729.2 1255.5 727.2 1259.0 725.4 1262.6 723.6 1266.2 721.9 1269.8 720.4 1273.5 718.9 1277.3 717.6 1281.1 716.4 1284.9 715.3 1288.7 714.2 1292.6 713.3 1296.5 712.5 1300.5 711.8 1304.4 711.2 1308.4 710.7 1312.3 710.2 1316.3 709.8 1320.3 709.6 1324.3 709.3 1328.3 709.1 1332.3 709.0 1336.3 709.0 1340.3 708.9 1344.3 709.0 1348.3 709.0 1352.3 709.2 1356.3 709.3 1360.3 709.5 1364.3 709.8 1368.3 710.1 1372.2 710.4 1376.2 710.7 1380.2 711.1 1384.2 711.5 1388.2 712.0 1392.1 712.5 1396.1 713.0 1400.1 713.5 1404.0 714.0 1408.0 714.6 1412.0 715.2 1415.9 715.8 1419.9 716.4 1423.8 717.1 1427.8 717.7 1431.7 718.4 1435.7 719.1 1439.6 719.8 1443.5 720.4 1447.5 721.1 1451.4 721.8 1455.4 722.6 1459.3 723.3 1463.2 724.0 1467.2 724.7 1471.1 725.5 1475.0 726.2 1479.0 726.9 1482.9 727.7 1486.8 728.4 1490.7 729.2 1494.7 730.0 1498.6 730.7 1502.5 731.5 1506.4 732.3 1510.4 733.0 1514.3 733.8 1518.2 734.6 1522.1 735.4 1526.1 736.1 1530.0 736.9 1533.9 737.7 1537.8 738.5 1541.8 739.3 1545.7 740.0 1549.6 740.8 1553.5 741.6 1557.5 742.4 1561.4 743.2 1565.3 743.9 1569.2 744.7 1573.1 745.5 1577.1 746.3 1581.0 747.1 1584.9 747.8 1588.8 748.6 1592.8 749.4 1596.7 750.1 1600.6 750.9 1604.5 751.6 1608.5 752.4 1612.4 753.1 1616.3 753.9 1620.3 754.6 1624.2 755.4 1628.1 756.1 1632.1 756.8 1636.0 757.5 1637.5 757.8" stroke="#ff000c" stroke-opacity="0.53" stroke-width="4.0" fill="none" stroke-linecap="round" stroke-linejoin="round"/>
<path d="M1033.3 927.1 1037.3 927.0 1041.3 926.9 1045.3 926.8 1049.3 926.7 1053.3 926.6 1057.3 926.5 1061.3 926.5 1065.3 926.4 1069.3 926.3 1073.3 926.2 1077.3 926.1 1081.3 925.9 1085.3 925.8 1089.3 925.7 1093.3 925.5 1097.3 925.3 1101.3 925.1 1105.3 924.8 1109.3 924.6 1113.2 924.3 1117.2 923.9 1121.2 923.6 1125.2 923.1 1129.2 922.5 1133.1 921.8 1137.0 920.9 1140.9 919.8 1144.7 918.5 1148.5 916.9 1152.1 915.1 1155.6 913.1 1159.0 910.8 1162.3 908.4 1165.4 905.7 1168.4 902.9 1171.2 900.0 1173.9 896.9 1176.6 893.9 1179.2 890.8 1181.7 887.7 1184.3 884.7 1186.9 881.7 1189.6 878.8 1192.3 876.1 1195.2 873.4 1198.2 870.8 1201.3 868.3 1204.4 866.0 1207.7 863.7 1211.0 861.5 1214.3 859.4 1217.7 857.3 1221.2 855.4 1224.7 853.5 1228.2 851.7 1231.8 849.9 1235.4 848.3 1239.1 846.7 1242.8 845.2 1246.5 843.7 1250.2 842.4 1254.0 841.1 1257.8 839.9 1261.6 838.8 1265.5 837.7 1269.4 836.8 1273.2 835.9 1277.1 835.0 1281.1 834.3 1285.0 833.5 1288.9 832.9 1292.9 832.3 1296.9 831.8 1300.8 831.3 1304.8 830.9 1308.8 830.6 1312.8 830.2 1316.8 830.0 1320.7 829.7 1324.7 829.5 1328.7 829.3 1332.7 829.2 1336.7 829.1 1340.7 829.0 1344.7 828.9 1348.7 828.9 1352.7 828.9 1356.7 828.9 1360.7 829.0 1364.7 829.0 1368.7 829.1 1372.7 829.2 1376.7 829.4 1380.7 829.5 1384.7 829.7 1388.7 829.9 1392.7 830.1 1396.7 830.3 1400.7 830.6 1404.7 830.9 1408.7 831.2 1412.7 831.5 1416.7 831.8 1420.6 832.1 1424.6 832.5 1428.6 832.8 1432.6 833.2 1436.6 833.6 1440.6 834.0 1444.5 834.4 1448.5 834.8 1452.5 835.2 1456.5 835.7 1460.4 836.1 1464.4 836.6 1468.4 837.0 1472.4 837.5 1476.3 838.0 1480.3 838.5 1484.3 839.0 1488.2 839.4 1492.2 839.9 1496.2 840.4 1500.2 840.9 1504.1 841.4 1508.1 841.9 1512.1 842.4 1516.0 842.9 1520.0 843.4 1524.0 843.9 1527.9 844.4 1531.9 844.9 1535.9 845.4 1539.8 845.9 1543.8 846.4 1547.8 846.8 1551.8 847.3 1555.7 847.8 1559.7 848.2 1563.7 848.7 1567.7 849.1 1571.6 849.5 1575.6 850.0 1579.6 850.4 1583.6 850.8 1587.5 851.2 1591.5 851.5 1595.5 851.9 1599.5 852.2 1603.5 852.6 1607.5 852.9 1611.5 853.2 1615.4 853.5 1619.4 853.8 1623.4 854.0 1627.4 854.3 1631.4 854.5 1635.4 854.7 1637.5 854.8" stroke="#ff2b35" stroke-opacity="1.00" stroke-width="4.9" fill="none" stroke-linecap="round" stroke-linejoin="round"/>
<path d="M293.5 1851.4 297.5 1851.5 301.5 1851.6 305.5 1851.7 309.5 1851.8 313.5 1851.8 317.5 1851.8 321.5 1851.9 325.5 1851.9 329.5 1851.9 333.5 1851.9 337.5 1851.9 341.5 1851.9 345.5 1851.9 349.5 1851.9 353.5 1851.9 357.5 1851.9 361.5 1852.0 365.5 1852.0 369.5 1851.9 373.5 1851.8 377.5 1851.5 381.5 1851.1 385.4 1850.5 389.4 1849.8 393.3 1848.8 397.1 1847.5 400.9 1845.8 404.4 1843.7 407.7 1841.2 410.8 1838.4 413.7 1835.4 416.3 1832.1 418.7 1828.7 420.9 1825.3 423.0 1821.7 425.0 1818.1 426.9 1814.5 428.7 1810.9 430.4 1807.2 432.1 1803.5 433.7 1799.8 435.3 1796.0 436.9 1792.3 438.4 1788.5 439.8 1784.8 441.3 1781.0 442.7 1777.2 444.1 1773.4 445.4 1769.6 446.8 1765.8 448.1 1762.0 449.4 1758.2 450.7 1754.4 452.0 1750.6 453.2 1746.8 454.5 1742.9 455.7 1739.1 456.9 1735.3 458.1 1731.5 459.3 1727.6 460.5 1723.8 461.7 1720.0 462.9 1716.1 464.1 1712.3 465.2 1708.5 466.4 1704.6 467.5 1700.8 468.7 1696.9 469.8 1693.1 470.9 1689.2 472.1 1685.4 473.2 1681.5 474.3 1677.7 475.4 1673.8 476.5 1670.0 477.6 1666.1 478.7 1662.2 479.7 1658.4 480.8 1654.5 481.9 1650.6 482.9 1646.8 484.0 1642.9 485.0 1639.0 486.1 1635.1 487.1 1631.2 488.1 1627.4 489.1 1623.5 490.1 1619.6 491.1 1615.7 492.1 1611.8 493.1 1607.9 494.1 1604.0 495.1 1600.1 496.0 1596.3 497.0 1592.4 498.0 1588.5 498.9 1584.6 499.9 1580.7 500.8 1576.8 501.7 1572.9 502.7 1569.0 503.6 1565.1 504.6 1561.2 505.5 1557.3 506.4 1553.4 507.4 1549.5 508.3 1545.6 509.2 1541.7 510.1 1537.9 511.1 1534.0 512.0 1530.1 512.9 1526.2 513.8 1522.3 514.8 1518.4 515.7 1514.5 516.6 1510.6 517.5 1506.7 518.5 1502.8 519.4 1499.0 520.3 1495.1 521.3 1491.2 522.2 1487.3 523.1 1483.4 524.1 1479.5 525.0 1475.7 526.0 1471.8 526.9 1467.9 527.9 1464.0 528.8 1460.1 529.8 1456.3 530.7 1452.4 531.7 1448.5 532.7 1444.6 533.6 1440.8 534.6 1436.9 535.6 1433.0 536.6 1429.1 537.5 1425.3 538.5 1421.4 539.5 1417.5 540.5 1413.7 541.5 1409.8 542.5 1405.9 543.5 1402.1 544.5 1398.2 545.5 1394.4 546.6 1390.6 547.7 1386.8 548.8 1383.0 549.9 1379.2 551.0 1375.5 552.3 1371.8 553.5 1368.1 554.9 1364.4 556.2 1360.7 557.7 1357.0 559.1 1353.3 560.6 1349.6 562.1 1345.9 563.6 1342.1 565.0 1338.3 566.4 1334.5 567.7 1330.6 569.0 1326.8 570.3 1322.9 571.5 1319.1 572.7 1315.3 573.9 1311.5 575.1 1307.7 576.4 1303.9 577.6 1300.2 578.9 1296.4 580.2 1292.7 581.6 1289.0 583.0 1285.3 584.4 1281.6 585.8 1278.0 587.3 1274.3 588.9 1270.7 590.5 1267.1 592.1 1263.5 593.8 1259.9 595.6 1256.4 597.4 1252.9 599.2 1249.4 601.1 1246.0 603.1 1242.6 605.2 1239.3 607.3 1236.0 609.5 1232.7 611.8 1229.5 614.2 1226.4 616.6 1223.3 619.2 1220.3 621.8 1217.3 624.4 1214.4 627.2 1211.6 630.0 1208.8 632.9 1206.1 635.9 1203.5 638.9 1200.9 641.9 1198.3 645.0 1195.8 648.1 1193.3 651.2 1190.8 654.4 1188.5 657.6 1186.1 660.9 1183.8 664.2 1181.6 667.5 1179.4 670.9 1177.3 674.3 1175.3 677.7 1173.3 681.2 1171.3 684.7 1169.5 688.2 1167.6 691.8 1165.9 695.4 1164.2 699.1 1162.6 702.7 1161.0 706.4 1159.5 710.1 1158.1 713.9 1156.7 717.6 1155.4 721.4 1154.1 725.2 1153.0 729.1 1151.8 732.9 1150.8 736.8 1149.8 740.7 1148.8 744.6 1147.9 748.5 1147.1 752.4 1146.3 756.3 1145.6 760.3 1144.9 764.2 1144.3 768.2 1143.8 772.1 1143.3 776.1 1142.9 780.1 1142.5 784.1 1142.3 788.1 1142.1 792.1 1142.0 796.1 1141.9 800.1 1142.0 804.1 1142.1 808.1 1142.3 812.0 1142.6 816.0 1143.0 820.0 1143.5 824.0 1144.1 827.9 1144.7 831.9 1145.5 835.8 1146.3 839.7 1147.2 843.6 1148.1 847.5 1149.0 851.4 1149.9 855.3 1150.9 859.1 1151.9 863.0 1152.8 866.9 1153.7 870.8 1154.6 874.7 1155.4 878.7 1156.1 882.6 1156.8 886.5 1157.4 890.5 1157.9 894.5 1158.2 897.8 1158.4" stroke="#312d2e" stroke-opacity="1.00" stroke-width="4.0" fill="none" stroke-linecap="round" stroke-linejoin="round"/>
<path d="M293.5 1851.4 297.5 1851.5 301.5 1851.7 305.5 1851.7 309.5 1851.8 313.5 1851.8 317.5 1851.8 321.5 1851.8 325.5 1851.8 329.5 1851.8 333.5 1851.8 337.5 1851.8 341.5 1851.8 345.5 1851.9 349.5 1852.0 353.5 1852.1 357.5 1852.1 361.5 1852.2 365.5 1852.1 369.5 1852.0 373.5 1851.7 377.5 1851.2 381.4 1850.2 385.2 1848.6 388.8 1846.4 391.9 1843.6 394.8 1840.4 397.3 1837.0 399.5 1833.5 401.5 1829.9 403.5 1826.2 405.3 1822.6 407.0 1818.9 408.7 1815.2 410.3 1811.5 411.9 1807.7 413.5 1804.0 415.0 1800.3 416.5 1796.5 418.0 1792.8 419.4 1789.1 420.9 1785.3 422.3 1781.6 423.8 1777.8 425.2 1774.1 426.7 1770.4 428.1 1766.6 429.5 1762.9 430.9 1759.1 432.3 1755.3 433.7 1751.6 435.1 1747.8 436.4 1744.0 437.8 1740.2 439.1 1736.4 440.4 1732.6 441.7 1728.8 443.0 1725.0 444.2 1721.1 445.5 1717.3 446.7 1713.5 447.9 1709.6 449.1 1705.8 450.2 1701.9 451.4 1698.1 452.5 1694.2 453.7 1690.3 454.8 1686.5 455.9 1682.6 457.0 1678.8 458.1 1674.9 459.2 1671.0 460.2 1667.2 461.3 1663.3 462.4 1659.4 463.5 1655.6 464.5 1651.7 465.6 1647.9 466.6 1644.0 467.7 1640.1 468.7 1636.3 469.8 1632.4 470.8 1628.5 471.9 1624.7 472.9 1620.8 474.0 1617.0 475.0 1613.1 476.1 1609.3 477.1 1605.4 478.2 1601.5 479.2 1597.7 480.3 1593.8 481.3 1590.0 482.4 1586.2 483.5 1582.3 484.6 1578.5 485.7 1574.6 486.8 1570.8 487.9 1567.0 489.0 1563.1 490.1 1559.3 491.2 1555.5 492.3 1551.7 493.5 1547.8 494.6 1544.0 495.7 1540.2 496.9 1536.4 498.1 1532.6 499.2 1528.8 500.4 1524.9 501.6 1521.1 502.8 1517.3 504.0 1513.5 505.2 1509.7 506.4 1505.9 507.6 1502.1 508.9 1498.4 510.1 1494.6 511.4 1490.8 512.6 1487.0 513.9 1483.2 515.2 1479.4 516.5 1475.7 517.8 1471.9 519.1 1468.1 520.4 1464.4 521.7 1460.6 523.1 1456.9 524.4 1453.1 525.8 1449.4 527.1 1445.6 528.5 1441.9 529.9 1438.2 531.3 1434.4 532.7 1430.7 534.2 1427.0 535.6 1423.3 537.1 1419.6 538.5 1415.9 540.0 1412.2 541.5 1408.5 543.0 1404.8 544.5 1401.1 546.1 1397.5 547.6 1393.8 549.2 1390.1 550.8 1386.5 552.4 1382.8 554.0 1379.2 555.6 1375.6 557.2 1371.9 558.9 1368.3 560.6 1364.7 562.3 1361.1 564.0 1357.5 565.7 1353.9 567.5 1350.3 569.2 1346.8 571.0 1343.2 572.8 1339.7 574.6 1336.1 576.5 1332.6 578.3 1329.1 580.2 1325.6 582.1 1322.1 584.1 1318.7 586.1 1315.2 588.1 1311.8 590.1 1308.4 592.1 1305.0 594.2 1301.6 596.3 1298.2 598.5 1294.9 600.7 1291.6 602.9 1288.3 605.1 1285.0 607.4 1281.8 609.8 1278.6 612.2 1275.5 614.6 1272.3 617.1 1269.3 619.6 1266.2 622.2 1263.2 624.9 1260.3 627.6 1257.4 630.3 1254.5 633.1 1251.7 636.0 1249.0 638.9 1246.3 641.9 1243.7 644.9 1241.2 648.0 1238.7 651.2 1236.3 654.4 1234.0 657.7 1231.8 661.0 1229.6 664.4 1227.6 667.8 1225.6 671.3 1223.7 674.9 1222.0 678.5 1220.3 682.2 1218.7 685.8 1217.2 689.6 1215.8 693.3 1214.5 697.1 1213.3 701.0 1212.2 704.8 1211.2 708.7 1210.2 712.6 1209.4 716.5 1208.6 720.4 1207.9 724.4 1207.2 728.3 1206.7 732.3 1206.2 736.3 1205.8 740.3 1205.4 744.2 1205.1 748.2 1204.9 752.2 1204.8 756.2 1204.7 760.2 1204.7 764.2 1204.7 768.2 1204.8 772.2 1204.9 776.2 1205.1 780.2 1205.3 784.2 1205.6 788.2 1205.9 792.2 1206.3 796.2 1206.6 800.1 1207.1 804.1 1207.5 808.1 1208.0 812.1 1208.5 816.0 1209.0 820.0 1209.6 824.0 1210.2 827.9 1210.8 831.9 1211.4 835.8 1212.0 839.8 1212.6 843.7 1213.3 847.7 1213.9 851.6 1214.5 855.6 1215.2 859.5 1215.8 863.5 1216.5 867.4 1217.1 871.4 1217.7 875.3 1218.3 879.3 1218.9 883.2 1219.5 887.2 1220.1 891.1 1220.6 895.1 1221.2 897.8 1221.5" stroke="#ff000c" stroke-opacity="0.37" stroke-width="3.8" fill="none" stroke-linecap="round" stroke-linejoin="round"/>
<path d="M293.5 1851.4 297.5 1851.5 301.5 1851.7 305.5 1851.8 309.5 1851.8 313.5 1851.8 317.5 1851.9 321.5 1851.9 325.5 1851.8 329.5 1851.8 333.5 1851.8 337.5 1851.8 341.5 1851.8 345.5 1851.8 349.5 1851.9 353.5 1852.0 357.5 1852.1 361.5 1852.2 365.5 1852.2 369.5 1852.1 373.5 1851.7 377.4 1851.0 381.3 1849.9 385.1 1848.3 388.7 1846.2 392.0 1843.6 395.0 1840.6 397.7 1837.4 400.1 1834.0 402.3 1830.4 404.3 1826.8 406.2 1823.0 407.9 1819.3 409.5 1815.5 411.0 1811.7 412.4 1807.8 413.8 1804.0 415.2 1800.2 416.5 1796.4 417.8 1792.6 419.1 1788.8 420.4 1785.0 421.6 1781.2 422.9 1777.4 424.2 1773.6 425.5 1769.9 426.8 1766.1 428.1 1762.4 429.4 1758.6 430.8 1755.0 432.2 1751.3 433.7 1747.7 435.2 1744.0 436.8 1740.4 438.4 1736.8 440.1 1733.2 441.7 1729.5 443.3 1725.8 444.9 1722.0 446.5 1718.3 447.9 1714.5 449.4 1710.7 450.7 1706.8 452.1 1703.0 453.4 1699.2 454.7 1695.4 456.0 1691.6 457.3 1687.8 458.5 1684.0 459.8 1680.2 461.1 1676.4 462.3 1672.6 463.5 1668.8 464.8 1665.0 466.0 1661.2 467.3 1657.4 468.5 1653.6 469.8 1649.8 471.0 1646.0 472.3 1642.2 473.5 1638.4 474.8 1634.7 476.1 1630.9 477.4 1627.1 478.7 1623.4 480.0 1619.6 481.4 1615.9 482.7 1612.1 484.1 1608.4 485.5 1604.7 486.9 1600.9 488.3 1597.2 489.7 1593.5 491.2 1589.8 492.6 1586.1 494.1 1582.4 495.6 1578.7 497.1 1575.0 498.6 1571.3 500.1 1567.7 501.7 1564.0 503.2 1560.3 504.8 1556.6 506.4 1553.0 507.9 1549.3 509.5 1545.7 511.2 1542.0 512.8 1538.4 514.4 1534.8 516.1 1531.1 517.7 1527.5 519.4 1523.9 521.1 1520.3 522.8 1516.7 524.5 1513.1 526.3 1509.5 528.0 1506.0 529.8 1502.4 531.6 1498.8 533.4 1495.3 535.2 1491.7 537.0 1488.2 538.8 1484.6 540.7 1481.1 542.6 1477.6 544.5 1474.1 546.4 1470.6 548.3 1467.1 550.3 1463.7 552.2 1460.2 554.2 1456.8 556.2 1453.3 558.2 1449.9 560.3 1446.5 562.4 1443.1 564.5 1439.8 566.7 1436.5 568.9 1433.2 571.2 1429.9 573.4 1426.7 575.8 1423.5 578.2 1420.3 580.6 1417.2 583.1 1414.1 585.6 1411.1 588.2 1408.1 590.8 1405.1 593.5 1402.2 596.2 1399.3 599.0 1396.5 601.9 1393.7 604.8 1391.0 607.7 1388.4 610.7 1385.8 613.7 1383.2 616.8 1380.7 620.0 1378.3 623.1 1375.9 626.4 1373.6 629.7 1371.4 633.0 1369.2 636.3 1367.1 639.7 1365.0 643.2 1363.0 646.7 1361.1 650.2 1359.2 653.7 1357.3 657.2 1355.5 660.8 1353.8 664.4 1352.1 668.1 1350.4 671.7 1348.7 675.3 1347.1 679.0 1345.5 682.7 1343.9 686.3 1342.3 690.0 1340.8 693.7 1339.3 697.4 1337.8 701.1 1336.3 704.9 1334.9 708.6 1333.5 712.4 1332.1 716.1 1330.9 719.9 1329.7 723.8 1328.5 727.6 1327.5 731.5 1326.5 735.4 1325.6 739.3 1324.8 743.2 1324.1 747.2 1323.5 751.1 1322.9 755.1 1322.4 759.0 1322.0 763.0 1321.6 767.0 1321.3 771.0 1321.1 775.0 1320.9 779.0 1320.7 783.0 1320.7 787.0 1320.6 791.0 1320.6 795.0 1320.7 799.0 1320.8 803.0 1320.9 807.0 1321.1 811.0 1321.4 815.0 1321.6 819.0 1321.9 822.9 1322.2 826.9 1322.6 830.9 1323.0 834.9 1323.4 838.9 1323.9 842.8 1324.4 846.8 1324.9 850.8 1325.4 854.7 1325.9 858.7 1326.5 862.7 1327.1 866.6 1327.6 870.6 1328.2 874.5 1328.9 878.5 1329.5 882.4 1330.1 886.4 1330.8 890.3 1331.4 894.3 1332.0 897.8 1332.6" stroke="#ff000c" stroke-opacity="0.53" stroke-width="4.0" fill="none" stroke-linecap="round" stroke-linejoin="round"/>
<path d="M293.5 1851.4 297.5 1851.6 301.5 1851.7 305.5 1851.8 309.5 1851.8 313.5 1851.8 317.5 1851.8 321.5 1851.8 325.5 1851.8 329.5 1851.8 333.5 1851.8 337.5 1851.8 341.5 1851.9 345.5 1852.0 349.5 1852.0 353.5 1852.1 357.5 1852.2 361.5 1852.2 365.5 1852.1 369.5 1852.0 373.5 1851.8 377.5 1851.5 381.5 1851.0 385.4 1850.4 389.4 1849.6 393.2 1848.4 397.0 1846.8 400.6 1844.9 404.0 1842.6 407.2 1839.9 410.2 1837.0 412.9 1833.9 415.5 1830.6 417.8 1827.2 420.0 1823.7 422.1 1820.1 424.0 1816.5 425.9 1812.9 427.7 1809.3 429.5 1805.6 431.2 1802.0 432.9 1798.3 434.6 1794.7 436.2 1791.1 437.9 1787.4 439.6 1783.8 441.3 1780.2 443.0 1776.6 444.7 1773.0 446.5 1769.5 448.2 1765.9 450.0 1762.3 451.8 1758.8 453.6 1755.2 455.4 1751.7 457.2 1748.1 459.1 1744.6 461.0 1741.1 462.8 1737.5 464.7 1734.0 466.6 1730.4 468.4 1726.8 470.2 1723.2 472.0 1719.6 473.7 1716.0 475.5 1712.5 477.3 1708.9 479.1 1705.3 480.8 1701.7 482.6 1698.1 484.4 1694.6 486.2 1691.1 488.1 1687.5 489.9 1684.0 491.8 1680.5 493.7 1677.0 495.7 1673.6 497.6 1670.1 499.6 1666.7 501.7 1663.3 503.7 1659.9 505.8 1656.5 508.0 1653.2 510.1 1649.9 512.3 1646.5 514.5 1643.3 516.8 1640.0 519.1 1636.8 521.4 1633.5 523.8 1630.3 526.2 1627.2 528.6 1624.0 531.1 1620.9 533.6 1617.8 536.1 1614.8 538.7 1611.8 541.3 1608.8 543.9 1605.8 546.6 1602.8 549.3 1599.9 552.0 1597.0 554.8 1594.2 557.6 1591.3 560.4 1588.5 563.3 1585.8 566.2 1583.0 569.1 1580.3 572.0 1577.7 575.0 1575.0 578.0 1572.4 581.1 1569.8 584.1 1567.3 587.2 1564.8 590.4 1562.4 593.5 1559.9 596.7 1557.6 599.9 1555.2 603.2 1552.9 606.5 1550.7 609.8 1548.5 613.1 1546.3 616.5 1544.2 619.9 1542.1 623.4 1540.1 626.8 1538.1 630.3 1536.2 633.8 1534.3 637.4 1532.5 640.9 1530.7 644.5 1529.0 648.1 1527.3 651.8 1525.7 655.4 1524.1 659.1 1522.6 662.8 1521.1 666.5 1519.7 670.3 1518.3 674.1 1517.0 677.8 1515.7 681.6 1514.4 685.4 1513.2 689.3 1512.1 693.1 1511.0 696.9 1509.9 700.8 1508.9 704.7 1507.9 708.6 1507.0 712.5 1506.1 716.4 1505.2 720.3 1504.4 724.2 1503.6 728.1 1502.9 732.0 1502.1 736.0 1501.4 739.9 1500.8 743.9 1500.1 747.8 1499.5 751.8 1498.9 755.7 1498.4 759.7 1497.8 763.7 1497.3 767.6 1496.9 771.6 1496.4 775.6 1496.0 779.6 1495.6 783.5 1495.2 787.5 1494.9 791.5 1494.6 795.5 1494.3 799.5 1494.1 803.5 1493.8 807.5 1493.6 811.5 1493.4 815.5 1493.3 819.5 1493.2 823.5 1493.1 827.5 1493.0 831.5 1493.0 835.5 1492.9 839.5 1492.9 843.5 1493.0 847.5 1493.0 851.5 1493.1 855.5 1493.2 859.5 1493.4 863.5 1493.5 867.5 1493.7 871.5 1493.9 875.4 1494.2 879.4 1494.4 883.4 1494.7 887.4 1495.0 891.4 1495.3 895.4 1495.7 899.0 1496.0" stroke="#ff2b35" stroke-opacity="1.00" stroke-width="4.9" fill="none" stroke-linecap="round" stroke-linejoin="round"/>
<path d="M1033.1 1851.6 1037.1 1851.7 1041.1 1851.7 1045.1 1851.7 1049.1 1851.6 1053.1 1851.5 1057.1 1851.5 1061.1 1851.4 1065.1 1851.4 1069.1 1851.3 1073.1 1851.4 1077.1 1851.5 1081.1 1851.6 1085.1 1851.8 1089.1 1852.0 1093.1 1852.1 1097.1 1852.1 1101.1 1852.0 1105.1 1851.7 1109.1 1851.2 1113.0 1850.4 1116.9 1849.3 1120.7 1848.0 1124.4 1846.4 1128.1 1844.6 1131.6 1842.5 1135.0 1840.3 1138.3 1837.9 1141.5 1835.4 1144.5 1832.7 1147.5 1829.9 1150.4 1827.1 1153.2 1824.1 1155.9 1821.2 1158.6 1818.1 1161.2 1815.1 1163.8 1812.0 1166.4 1808.9 1168.9 1805.8 1171.4 1802.7 1173.9 1799.6 1176.4 1796.4 1179.0 1793.3 1181.5 1790.2 1184.0 1787.1 1186.5 1784.0 1189.0 1781.0 1191.6 1777.9 1194.2 1774.9 1196.9 1772.0 1199.6 1769.1 1202.3 1766.2 1205.1 1763.3 1207.9 1760.5 1210.7 1757.8 1213.6 1755.1 1216.6 1752.4 1219.5 1749.8 1222.6 1747.2 1225.6 1744.7 1228.8 1742.2 1231.9 1739.8 1235.1 1737.5 1238.4 1735.2 1241.7 1733.0 1245.0 1730.8 1248.4 1728.8 1251.8 1726.7 1255.3 1724.8 1258.8 1722.9 1262.3 1721.1 1265.9 1719.3 1269.5 1717.6 1273.2 1716.0 1276.8 1714.5 1280.6 1713.0 1284.3 1711.6 1288.0 1710.3 1291.8 1709.0 1295.6 1707.8 1299.4 1706.7 1303.3 1705.6 1307.1 1704.5 1311.0 1703.6 1314.9 1702.6 1318.8 1701.8 1322.7 1700.9 1326.6 1700.1 1330.5 1699.4 1334.5 1698.6 1338.4 1697.9 1342.3 1697.3 1346.3 1696.7 1350.3 1696.1 1354.2 1695.5 1358.2 1695.0 1362.1 1694.5 1366.1 1694.0 1370.1 1693.5 1374.1 1693.1 1378.0 1692.7 1382.0 1692.3 1386.0 1692.0 1390.0 1691.7 1394.0 1691.4 1398.0 1691.1 1402.0 1690.9 1405.9 1690.7 1409.9 1690.5 1413.9 1690.3 1417.9 1690.1 1421.9 1690.0 1425.9 1689.9 1429.9 1689.7 1433.9 1689.7 1437.9 1689.6 1441.9 1689.5 1445.9 1689.5 1449.9 1689.5 1453.9 1689.4 1457.9 1689.4 1461.9 1689.5 1465.9 1689.5 1469.9 1689.5 1473.9 1689.5 1477.9 1689.6 1481.9 1689.7 1485.9 1689.7 1489.9 1689.8 1493.9 1689.9 1497.9 1690.0 1501.9 1690.1 1505.9 1690.2 1509.9 1690.3 1513.9 1690.5 1517.9 1690.6 1521.9 1690.7 1525.9 1690.9 1529.9 1691.0 1533.9 1691.2 1537.9 1691.4 1541.9 1691.5 1545.9 1691.7 1549.9 1691.9 1553.9 1692.1 1557.9 1692.3 1561.9 1692.4 1565.9 1692.6 1569.9 1692.8 1573.9 1693.0 1577.9 1693.2 1581.9 1693.4 1585.8 1693.6 1589.8 1693.8 1593.8 1694.0 1597.8 1694.2 1601.8 1694.4 1605.8 1694.6 1609.8 1694.8 1613.8 1695.1 1617.8 1695.3 1621.8 1695.5 1625.8 1695.7 1629.8 1695.8 1633.8 1696.0 1636.4 1696.2" stroke="#312d2e" stroke-opacity="1.00" stroke-width="4.0" fill="none" stroke-linecap="round" stroke-linejoin="round"/>
<path d="M1033.1 1851.8 1037.1 1851.7 1041.1 1851.6 1045.1 1851.5 1049.1 1851.4 1053.1 1851.4 1057.1 1851.3 1061.1 1851.3 1065.1 1851.3 1069.1 1851.3 1073.1 1851.4 1077.1 1851.5 1081.1 1851.6 1085.1 1851.7 1089.1 1851.9 1093.1 1852.0 1097.1 1852.0 1101.1 1852.0 1105.1 1852.0 1109.1 1851.9 1113.1 1851.6 1117.1 1851.2 1121.0 1850.6 1125.0 1849.8 1128.9 1848.8 1132.7 1847.4 1136.4 1845.9 1140.1 1844.1 1143.6 1842.1 1147.1 1840.0 1150.4 1837.8 1153.8 1835.5 1157.0 1833.2 1160.3 1830.8 1163.5 1828.3 1166.6 1825.9 1169.8 1823.4 1172.9 1820.9 1176.1 1818.5 1179.2 1816.0 1182.4 1813.6 1185.6 1811.2 1188.8 1808.9 1192.0 1806.6 1195.3 1804.4 1198.7 1802.2 1202.0 1800.1 1205.4 1798.0 1208.9 1796.0 1212.3 1794.0 1215.8 1792.1 1219.4 1790.3 1222.9 1788.5 1226.5 1786.8 1230.1 1785.1 1233.8 1783.5 1237.5 1782.0 1241.2 1780.5 1244.9 1779.1 1248.7 1777.8 1252.4 1776.5 1256.2 1775.3 1260.1 1774.1 1263.9 1773.0 1267.8 1772.0 1271.6 1771.0 1275.5 1770.1 1279.4 1769.2 1283.3 1768.4 1287.2 1767.6 1291.2 1766.9 1295.1 1766.3 1299.1 1765.7 1303.0 1765.1 1307.0 1764.6 1310.9 1764.1 1314.9 1763.6 1318.9 1763.2 1322.9 1762.9 1326.9 1762.5 1330.9 1762.3 1334.8 1762.0 1338.8 1761.8 1342.8 1761.6 1346.8 1761.4 1350.8 1761.3 1354.8 1761.1 1358.8 1761.0 1362.8 1761.0 1366.8 1760.9 1370.8 1760.9 1374.8 1760.9 1378.8 1760.9 1382.8 1761.0 1386.8 1761.0 1390.8 1761.1 1394.8 1761.2 1398.8 1761.2 1402.8 1761.3 1406.8 1761.5 1410.8 1761.6 1414.8 1761.7 1418.8 1761.8 1422.8 1761.9 1426.8 1762.1 1430.8 1762.2 1434.8 1762.3 1438.8 1762.5 1442.8 1762.6 1446.8 1762.7 1450.8 1762.8 1454.8 1763.0 1458.8 1763.1 1462.8 1763.2 1466.8 1763.4 1470.8 1763.5 1474.8 1763.6 1478.8 1763.8 1482.8 1763.9 1486.8 1764.0 1490.8 1764.2 1494.8 1764.3 1498.8 1764.4 1502.8 1764.6 1506.8 1764.7 1510.8 1764.9 1514.8 1765.1 1518.8 1765.2 1522.7 1765.4 1526.7 1765.5 1530.7 1765.7 1534.7 1765.9 1538.7 1766.1 1542.7 1766.3 1546.7 1766.4 1550.7 1766.6 1554.7 1766.8 1558.7 1767.0 1562.7 1767.3 1566.7 1767.5 1570.7 1767.7 1574.7 1767.9 1578.7 1768.2 1582.7 1768.4 1586.7 1768.6 1590.7 1768.9 1594.6 1769.2 1598.6 1769.4 1602.6 1769.7 1606.6 1770.0 1610.6 1770.3 1614.6 1770.6 1618.6 1770.9 1622.6 1771.2 1626.6 1771.5 1630.6 1771.9 1634.5 1772.2 1636.4 1772.4" stroke="#ff000c" stroke-opacity="0.37" stroke-width="3.8" fill="none" stroke-linecap="round" stroke-linejoin="round"/>
<path d="M1033.1 1851.8 1037.1 1851.7 1041.1 1851.6 1045.1 1851.5 1049.1 1851.4 1053.1 1851.4 1057.1 1851.4 1061.1 1851.4 1065.1 1851.4 1069.1 1851.5 1073.1 1851.5 1077.1 1851.5 1081.1 1851.6 1085.1 1851.6 1089.1 1851.7 1093.1 1851.7 1097.1 1851.7 1101.1 1851.7 1105.1 1851.7 1109.1 1851.7 1113.1 1851.6 1117.1 1851.4 1121.1 1851.1 1125.1 1850.7 1129.0 1850.1 1133.0 1849.3 1136.9 1848.3 1140.7 1847.2 1144.5 1845.8 1148.3 1844.4 1152.0 1842.8 1155.6 1841.1 1159.2 1839.3 1162.8 1837.4 1166.3 1835.5 1169.8 1833.5 1173.3 1831.4 1176.7 1829.4 1180.1 1827.3 1183.6 1825.2 1187.0 1823.1 1190.4 1821.0 1193.8 1818.9 1197.2 1816.8 1200.6 1814.7 1204.0 1812.6 1207.4 1810.6 1210.8 1808.6 1214.3 1806.6 1217.8 1804.6 1221.3 1802.7 1224.8 1800.9 1228.4 1799.1 1231.9 1797.4 1235.6 1795.7 1239.2 1794.2 1242.9 1792.7 1246.7 1791.4 1250.5 1790.2 1254.3 1789.0 1258.1 1788.0 1262.0 1787.0 1265.9 1786.1 1269.8 1785.3 1273.7 1784.6 1277.7 1783.9 1281.6 1783.2 1285.6 1782.7 1289.5 1782.1 1293.5 1781.6 1297.5 1781.1 1301.4 1780.7 1305.4 1780.3 1309.4 1779.9 1313.4 1779.5 1317.4 1779.2 1321.3 1778.9 1325.3 1778.6 1329.3 1778.4 1333.3 1778.2 1337.3 1778.0 1341.3 1777.9 1345.3 1777.7 1349.3 1777.6 1353.3 1777.5 1357.3 1777.4 1361.3 1777.4 1365.3 1777.4 1369.3 1777.4 1373.3 1777.4 1377.3 1777.4 1381.3 1777.4 1385.3 1777.5 1389.3 1777.6 1393.3 1777.6 1397.3 1777.7 1401.3 1777.8 1405.3 1778.0 1409.3 1778.1 1413.3 1778.2 1417.3 1778.4 1421.3 1778.5 1425.3 1778.7 1429.3 1778.9 1433.3 1779.0 1437.3 1779.2 1441.3 1779.4 1445.3 1779.5 1449.3 1779.7 1453.3 1779.9 1457.3 1780.1 1461.3 1780.3 1465.3 1780.5 1469.2 1780.7 1473.2 1780.9 1477.2 1781.1 1481.2 1781.3 1485.2 1781.5 1489.2 1781.7 1493.2 1781.9 1497.2 1782.1 1501.2 1782.3 1505.2 1782.5 1509.2 1782.7 1513.2 1782.9 1517.2 1783.1 1521.2 1783.3 1525.2 1783.5 1529.2 1783.6 1533.2 1783.8 1537.2 1784.0 1541.2 1784.2 1545.2 1784.4 1549.2 1784.6 1553.1 1784.7 1557.1 1784.9 1561.1 1785.0 1565.1 1785.2 1569.1 1785.4 1573.1 1785.5 1577.1 1785.6 1581.1 1785.8 1585.1 1785.9 1589.1 1786.0 1593.1 1786.1 1597.1 1786.2 1601.1 1786.3 1605.1 1786.4 1609.1 1786.5 1613.1 1786.6 1617.1 1786.7 1621.1 1786.7 1625.1 1786.8 1629.1 1786.8 1633.1 1786.9 1636.4 1786.9" stroke="#ff000c" stroke-opacity="0.53" stroke-width="4.0" fill="none" stroke-linecap="round" stroke-linejoin="round"/>
<path d="M1033.1 1852.0 1037.1 1851.7 1041.1 1851.5 1045.1 1851.4 1049.1 1851.3 1053.1 1851.3 1057.1 1851.2 1061.1 1851.3 1065.1 1851.3 1069.1 1851.3 1073.1 1851.4 1077.1 1851.5 1081.1 1851.6 1085.1 1851.7 1089.1 1851.7 1093.1 1851.8 1097.1 1851.9 1101.1 1851.9 1105.1 1851.9 1109.1 1851.9 1113.1 1851.9 1117.1 1851.8 1121.1 1851.6 1125.1 1851.5 1129.1 1851.2 1133.1 1850.9 1137.0 1850.6 1141.0 1850.2 1145.0 1849.7 1149.0 1849.1 1152.9 1848.4 1156.9 1847.7 1160.8 1846.9 1164.7 1846.0 1168.6 1844.9 1172.4 1843.9 1176.3 1842.7 1180.1 1841.5 1183.9 1840.2 1187.7 1838.9 1191.4 1837.6 1195.2 1836.2 1199.0 1834.9 1202.7 1833.5 1206.5 1832.2 1210.3 1830.8 1214.1 1829.5 1217.8 1828.3 1221.6 1827.1 1225.5 1825.9 1229.3 1824.8 1233.2 1823.8 1237.0 1822.9 1240.9 1822.0 1244.8 1821.1 1248.8 1820.3 1252.7 1819.6 1256.6 1818.9 1260.6 1818.3 1264.5 1817.7 1268.5 1817.2 1272.4 1816.7 1276.4 1816.2 1280.4 1815.8 1284.4 1815.4 1288.4 1815.0 1292.3 1814.7 1296.3 1814.3 1300.3 1814.0 1304.3 1813.7 1308.3 1813.4 1312.3 1813.1 1316.3 1812.9 1320.3 1812.6 1324.3 1812.4 1328.2 1812.2 1332.2 1812.0 1336.2 1811.8 1340.2 1811.7 1344.2 1811.5 1348.2 1811.4 1352.2 1811.3 1356.2 1811.2 1360.2 1811.1 1364.2 1811.0 1368.2 1810.9 1372.2 1810.9 1376.2 1810.8 1380.2 1810.8 1384.2 1810.7 1388.2 1810.7 1392.2 1810.7 1396.2 1810.7 1400.2 1810.7 1404.2 1810.8 1408.2 1810.8 1412.2 1810.8 1416.2 1810.9 1420.2 1811.0 1424.2 1811.0 1428.2 1811.1 1432.2 1811.2 1436.2 1811.3 1440.2 1811.4 1444.2 1811.5 1448.2 1811.6 1452.2 1811.7 1456.2 1811.8 1460.2 1811.9 1464.2 1812.1 1468.2 1812.2 1472.2 1812.4 1476.2 1812.5 1480.2 1812.6 1484.2 1812.8 1488.2 1812.9 1492.2 1813.1 1496.2 1813.3 1500.2 1813.4 1504.2 1813.6 1508.2 1813.7 1512.2 1813.9 1516.2 1814.1 1520.2 1814.2 1524.2 1814.4 1528.2 1814.6 1532.2 1814.7 1536.1 1814.9 1540.1 1815.1 1544.1 1815.2 1548.1 1815.4 1552.1 1815.5 1556.1 1815.7 1560.1 1815.8 1564.1 1816.0 1568.1 1816.1 1572.1 1816.3 1576.1 1816.4 1580.1 1816.6 1584.1 1816.7 1588.1 1816.8 1592.1 1816.9 1596.1 1817.0 1600.1 1817.2 1604.1 1817.3 1608.1 1817.4 1612.1 1817.4 1616.1 1817.5 1620.1 1817.6 1624.1 1817.7 1628.1 1817.7 1632.1 1817.8 1636.1 1817.8 1636.4 1817.8" stroke="#ff2b35" stroke-opacity="1.00" stroke-width="4.9" fill="none" stroke-linecap="round" stroke-linejoin="round"/>
<g fill="#000">
<text x="120.8" y="213.5" fill="#000">100</text>
<text x="161.5" y="396.0" fill="#000">75</text>
<text x="162.5" y="583.6" fill="#000">50</text>
<text x="161.5" y="764.0" fill="#000">25</text>
<text x="206.2" y="951.4" fill="#000">0</text>
<text x="271.2" y="1020.6" fill="#000">0</text>
<text x="485.3" y="1020.6" fill="#000">20</text>
<text x="726.8" y="1020.6" fill="#000">40</text>
<text x="1017.8" y="1020.6" fill="#000">0</text>
<text x="1231.6" y="1020.6" fill="#000">20</text>
<text x="1472.7" y="1020.6" fill="#000">40</text>
<text x="120.8" y="1139.0" fill="#000">100</text>
<text x="161.5" y="1321.5" fill="#000">75</text>
<text x="162.5" y="1507.0" fill="#000">50</text>
<text x="161.5" y="1690.0" fill="#000">25</text>
<text x="206.2" y="1877.0" fill="#000">0</text>
<text x="270.3" y="1945.0" fill="#000">0</text>
<text x="485.6" y="1945.0" fill="#000">20</text>
<text x="726.8" y="1945.0" fill="#000">40</text>
<text x="1017.8" y="1945.0" fill="#000">0</text>
<text x="1231.6" y="1945.0" fill="#000">20</text>
<text x="1472.7" y="1945.0" fill="#000">40</text>
<text x="79.7" y="92.8">(<tspan font-weight="bold">a</tspan>)</text>
<text x="876.1" y="92.8">(<tspan font-weight="bold">b</tspan>)</text>
<text x="79.0" y="1047.4">(<tspan font-weight="bold">c</tspan>)</text>
<text x="879.7" y="1047.4">(<tspan font-weight="bold">d</tspan>)</text>
<text x="413.2" y="93.1" fill="#000">poly(A)-Luc</text>
<text x="1140.8" y="93.1" fill="#000">β-globin-Luc</text>
<text transform="translate(79.6 531.9) rotate(-90)" x="-127.8" y="0">Relative</text>
<text transform="translate(134.9 542.7) rotate(-90)" x="-295.8" y="0">luminescence (AU)</text>
<text transform="translate(79.6 1445.9) rotate(-90)" x="-127.8" y="0">Relative</text>
<text transform="translate(134.9 1456.7) rotate(-90)" x="-295.8" y="0">luminescence (AU)</text>
<text x="367.5" y="2018.0" fill="#000">Time (minutes)</text>
<text x="1109.0" y="2018.0" fill="#000">Time (minutes)</text>
<text x="1684.2" y="481.0" fill="#000">mRNA:</text>
<text x="1684.0" y="554.3" fill="#3a3536">0.15 μM</text>
<text x="1688.7" y="926.2" fill="#000">AMP-PNP:</text>
<text x="1703.0" y="1008.4" fill="#ffa1a6">1.25 mM</text>
<text x="1705.8" y="1081.4" fill="#ff787e">2.50 mM</text>
<text x="1706.5" y="1149.2" fill="#ff2933">5.00 mM</text>
<text x="1684.2" y="1404.3" fill="#000">mRNA:</text>
<text x="1684.0" y="1479.3" fill="#3a3536">0.45 μM</text>
</g>
</g>
</svg>
</body></html>
